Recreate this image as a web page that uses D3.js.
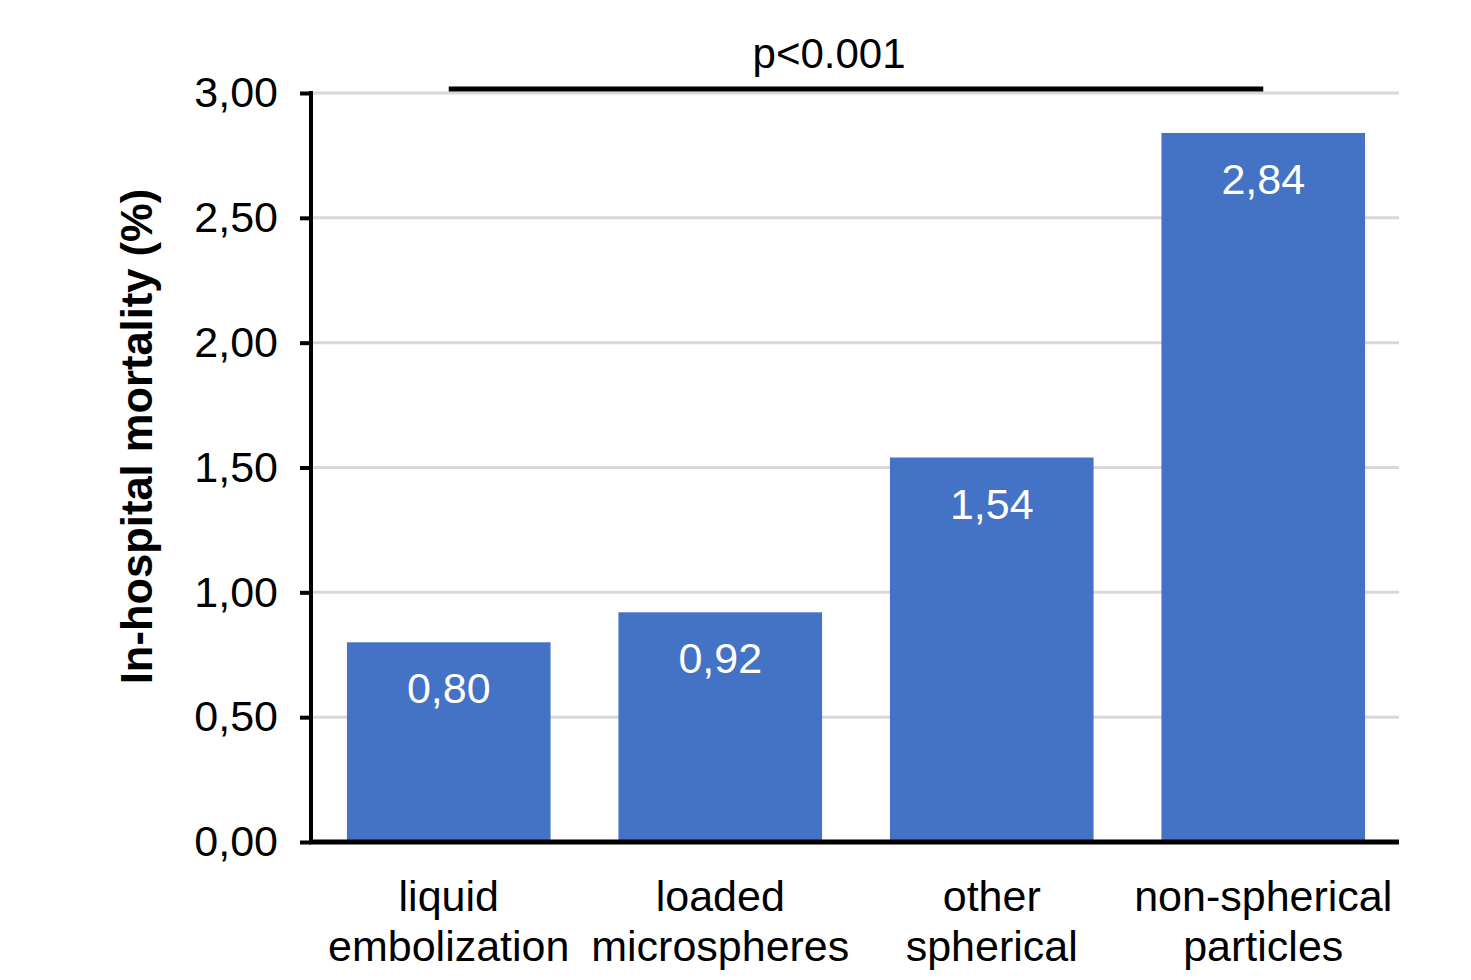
<!DOCTYPE html>
<html>
<head>
<meta charset="utf-8">
<script src="https://cdn.jsdelivr.net/npm/d3@7"></script>
<style>
  body { margin: 0; background: #fff; }
  text { font-family: "Liberation Sans", Arial, sans-serif; }
</style>
</head>
<body>
<div id="chart"></div>
<script>
const categories = [
    ["liquid", "embolization"],
    ["loaded", "microspheres"],
    ["other", "spherical", "particles"],
    ["non-spherical", "particles"]
];
const values = [0.80, 0.92, 1.54, 2.84];
const yTicks = [0, 0.5, 1, 1.5, 2, 2.5, 3];
const yTitle = "In-hospital mortality (%)";
const pLabel = "p<0.001";

const width = 1471, height = 980;
const margin = {top: 93, right: 72, bottom: 138, left: 311};

const svg = d3.select("#chart").append("svg")
    .attr("width", width)
    .attr("height", height)
    .attr("viewBox", [0, 0, width, height]);

const x = d3.scaleBand()
    .domain(d3.range(categories.length))
    .range([margin.left + 2, width - margin.right])
    .paddingInner(0.25)
    .paddingOuter(0.125);

const y = d3.scaleLinear()
    .domain([0, 3])
    .range([height - margin.bottom, margin.top]);

const comma = v => d3.format(".2f")(v).replace(".", ",");

// gridlines
svg.append("g")
    .selectAll("line")
    .data(yTicks.slice(1))
    .join("line")
    .attr("x1", margin.left)
    .attr("x2", width - margin.right)
    .attr("y1", d => y(d))
    .attr("y2", d => y(d))
    .attr("stroke", "#d9d9d9")
    .attr("stroke-width", 3);

// bars
svg.append("g")
    .selectAll("rect")
    .data(values)
    .join("rect")
    .attr("x", (d, i) => x(i))
    .attr("y", d => y(d))
    .attr("width", x.bandwidth())
    .attr("height", d => y(0) - y(d))
    .attr("fill", "#4472c4");

// value labels inside bars
svg.append("g")
    .selectAll("text")
    .data(values)
    .join("text")
    .attr("x", (d, i) => x(i) + x.bandwidth() / 2)
    .attr("y", d => y(d) + 61)
    .attr("text-anchor", "middle")
    .attr("fill", "#fff")
    .attr("font-size", 43)
    .text(d => comma(d));

// y axis
const yAxis = d3.axisLeft(y)
    .tickValues(yTicks)
    .tickFormat(comma)
    .tickSize(11)
    .tickPadding(22);

svg.append("g")
    .attr("transform", `translate(${margin.left},0)`)
    .call(yAxis)
    .call(g => g.select(".domain").attr("stroke", "#000").attr("stroke-width", 4)
        .attr("d", `M0,${y(3) - 2}V${y(0)}`))
    .call(g => g.selectAll(".tick line").attr("stroke", "#000").attr("stroke-width", 4))
    .call(g => g.selectAll(".tick text").attr("font-size", 43).attr("fill", "#000")
        .attr("font-family", "Liberation Sans, Arial, sans-serif"));

// x axis baseline
svg.append("line")
    .attr("x1", margin.left - 2)
    .attr("x2", width - margin.right)
    .attr("y1", y(0))
    .attr("y2", y(0))
    .attr("stroke", "#000")
    .attr("stroke-width", 5);

// category labels
const cat = svg.append("g")
    .selectAll("text")
    .data(categories)
    .join("text")
    .attr("text-anchor", "middle")
    .attr("font-size", 43)
    .attr("fill", "#000");

cat.selectAll("tspan")
    .data((d, i) => d.map(s => ({s, i})))
    .join("tspan")
    .attr("x", d => x(d.i) + x.bandwidth() / 2)
    .attr("y", (d, j) => y(0) + 69 + j * 50)
    .text(d => d.s);

// y axis title
svg.append("text")
    .attr("transform", `translate(152,${(y(0) + y(3)) / 2 - 31}) rotate(-90)`)
    .attr("text-anchor", "middle")
    .attr("font-size", 43.5)
    .attr("font-weight", "bold")
    .attr("fill", "#000")
    .text(yTitle);

// significance bracket
svg.append("line")
    .attr("x1", x(0) + x.bandwidth() / 2)
    .attr("x2", x(3) + x.bandwidth() / 2)
    .attr("y1", y(3) - 4)
    .attr("y2", y(3) - 4)
    .attr("stroke", "#000")
    .attr("stroke-width", 5);

svg.append("text")
    .attr("x", x(1) + x.bandwidth() + 7)
    .attr("y", 68)
    .attr("text-anchor", "middle")
    .attr("font-size", 42)
    .attr("fill", "#000")
    .text(pLabel);
</script>
</body>
</html>
